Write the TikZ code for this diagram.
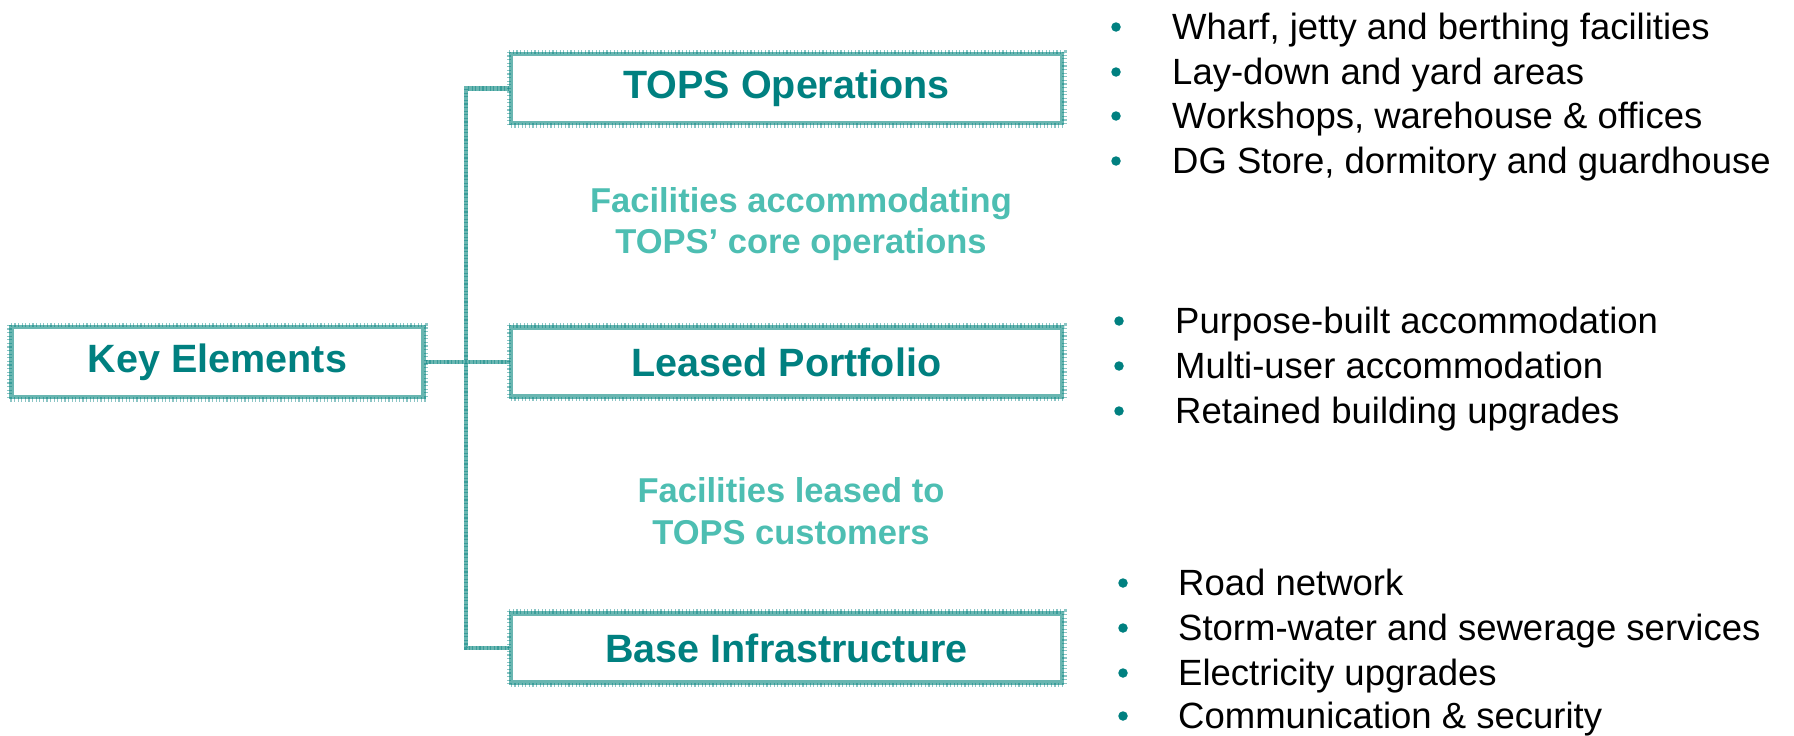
\documentclass[tikz,border=0pt]{standalone}
\usepackage{fontspec}
\setmainfont{Liberation Sans}
\begin{document}
\begin{tikzpicture}[x=1pt,y=-1pt,
  boxline/.style={draw=boxteal,line width=4.5pt},
  boxhatch/.style={draw=teal,draw opacity=0.45,line width=4.5pt,dash pattern=on 1.2pt off 2.4pt},
  headbox/.style={rectangle,draw=boxteal,line width=4.5pt,fill=white,
    text=teal,font=\fontsize{39.5}{46}\selectfont\bfseries,inner sep=0pt},
  subtext/.style={text=labelteal,font=\fontsize{34.5}{41}\selectfont\bfseries,anchor=base,inner sep=0pt},
  itemtext/.style={text=black,font=\fontsize{36.5}{44}\selectfont,anchor=base west,inner sep=0pt},
  dot/.style={circle,fill=teal,minimum size=9.5pt,inner sep=0pt}]
\definecolor{teal}{RGB}{0,128,128}
\definecolor{boxteal}{RGB}{105,182,177}
\definecolor{labelteal}{RGB}{77,190,178}
\useasboundingbox (0,0) rectangle (1794,736);

% trunk of the tree
\coordinate (trunkTop) at (466,88.5);
\coordinate (trunkBot) at (466,648);

% boxes
\node[headbox,minimum width=412pt,minimum height=70pt] (key) at (217.5,362) {Key Elements};
\node[headbox,minimum width=551pt,minimum height=69pt] (tops) at (786.5,88.5) {TOPS Operations};
\node[headbox,minimum width=551pt,minimum height=69pt] (leased) at (786.5,362) {Leased Portfolio};
\node[headbox,minimum width=551pt,minimum height=69pt] (base) at (786.5,648) {Base Infrastructure};

% connectors
\draw[boxline] (tops.west) -- (trunkTop) -- (trunkBot) -- (base.west);
\draw[boxline] (key.east) -- (leased.west);
\draw[boxhatch] (tops.west) -- (trunkTop) -- (trunkBot) -- (base.west);
\draw[boxhatch] (key.east) -- (leased.west);
\foreach \b in {key,tops,leased,base}
  \draw[boxhatch] (\b.north west) rectangle (\b.south east);

% captions between boxes
\node[subtext] (capA1) at (801,212) {Facilities accommodating};
\node[subtext] (capA2) at (801,253) {TOPS’ core operations};
\node[subtext] (capB1) at (791,502) {Facilities leased to};
\node[subtext] (capB2) at (791,544) {TOPS customers};

% TOPS Operations list
\foreach \y/\t [count=\i] in {39/{Wharf, jetty and berthing facilities},
    84/{Lay-down and yard areas},
    128/{Workshops, warehouse \& offices},
    173/{DG Store, dormitory and guardhouse}} {
  \node[dot] (opsdot\i) at (1116,\y-12) {};
  \node[itemtext] (ops\i) at (1172,\y) {\t};
}

% Leased Portfolio list
\foreach \y/\t [count=\i] in {333/{Purpose-built accommodation},
    378/{Multi-user accommodation},
    423/{Retained building upgrades}} {
  \node[dot] (leasedot\i) at (1119,\y-12) {};
  \node[itemtext] (lease\i) at (1175,\y) {\t};
}

% Base Infrastructure list
\foreach \y/\t [count=\i] in {595/{Road network},
    640/{Storm-water and sewerage services},
    685/{Electricity upgrades},
    728/{Communication \& security}} {
  \node[dot] (basedot\i) at (1123,\y-12) {};
  \node[itemtext] (infra\i) at (1178,\y) {\t};
}
\end{tikzpicture}
\end{document}
